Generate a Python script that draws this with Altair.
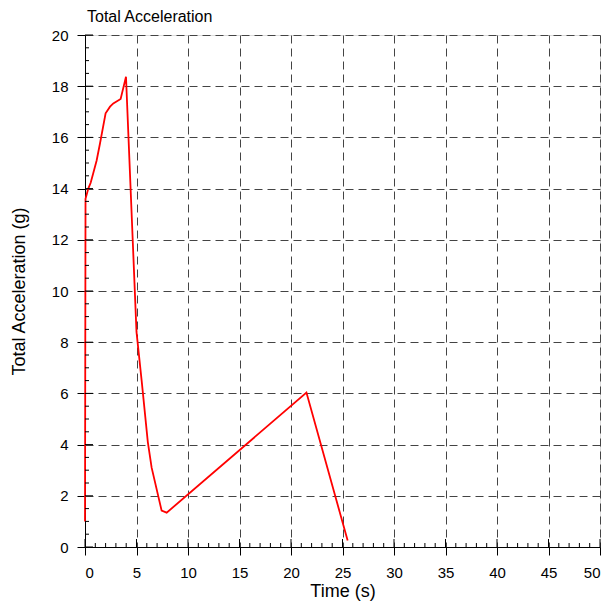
import altair as alt
import pandas as pd

# Series values
time_s = [0.0, 0.05, 0.32, 0.55, 0.8, 1.13, 1.46, 2.0, 2.43, 2.75, 3.46, 3.98,
          5.0, 5.5, 6.1, 6.47, 7.44, 7.93, 21.5, 25.5]
accel_g = [1.0, 13.6, 14.0, 14.23, 14.6, 15.1, 15.77, 16.94, 17.2, 17.33, 17.5, 18.37,
           8.4, 6.5, 4.1, 3.1, 1.42, 1.34, 6.03, 0.25]

# Tick values
x_major = [0, 5, 10, 15, 20, 25, 30, 35, 40, 45, 50]
y_major = [0, 2, 4, 6, 8, 10, 12, 14, 16, 18, 20]
x_minor = [v for v in range(0, 51) if v % 5 != 0]
y_minor = [v / 2 for v in range(0, 41) if v % 4 != 0]

W, H = 515, 512
FONT = "Liberation Sans"

df = pd.DataFrame({"t": time_s, "a": accel_g})
xs = alt.Scale(domain=[0, 50], nice=False, zero=False)
ys = alt.Scale(domain=[0, 20], nice=False, zero=False)

grid_kw = dict(grid=True, gridColor="#444", gridDash=[8, 5], gridWidth=1,
               domainColor="black", tickColor="black", tickSize=8,
               labelColor="black", labelFontSize=15, labelFont=FONT,
               titleColor="black", titleFontSize=18, titleFont=FONT,
               titleFontWeight="normal")

line = alt.Chart(df).mark_line(color="#ff0000", strokeWidth=1.8).encode(
    x=alt.X("t:Q", scale=xs, title="Time (s)",
            axis=alt.Axis(values=x_major, labelPadding=10, titlePadding=2, **grid_kw)),
    y=alt.Y("a:Q", scale=ys, title="Total Acceleration (g)",
            axis=alt.Axis(values=y_major, labelPadding=9, titlePadding=23, **grid_kw)),
    order=alt.Order("t:Q"),
)

xmaj = alt.Chart(pd.DataFrame({"v": x_major})).mark_rule(color="black", strokeWidth=1).encode(
    x=alt.X("v:Q", scale=xs), y=alt.value(H), y2=alt.value(H - 8))
xmin = alt.Chart(pd.DataFrame({"v": x_minor})).mark_rule(color="black", strokeWidth=1).encode(
    x=alt.X("v:Q", scale=xs), y=alt.value(H), y2=alt.value(H - 4))
ymaj = alt.Chart(pd.DataFrame({"v": y_major})).mark_rule(color="black", strokeWidth=1).encode(
    y=alt.Y("v:Q", scale=ys), x=alt.value(0), x2=alt.value(8))
ymin = alt.Chart(pd.DataFrame({"v": y_minor})).mark_rule(color="black", strokeWidth=1).encode(
    y=alt.Y("v:Q", scale=ys), x=alt.value(0), x2=alt.value(4))

chart = alt.layer(line, xmaj, xmin, ymaj, ymin).properties(
    width=W, height=H,
    autosize=alt.AutoSizeParams(type="none"),
    padding={"left": 85, "top": 35, "right": 10, "bottom": 56},
    title=alt.TitleParams("Total Acceleration", anchor="start", frame="group",
                          fontSize=16, font=FONT, fontWeight="normal", color="black",
                          offset=13, dx=2, dy=10),
).configure_view(stroke=None).configure(background="white")

chart.save("out.html", embed_options={"renderer": "svg", "actions": False})
